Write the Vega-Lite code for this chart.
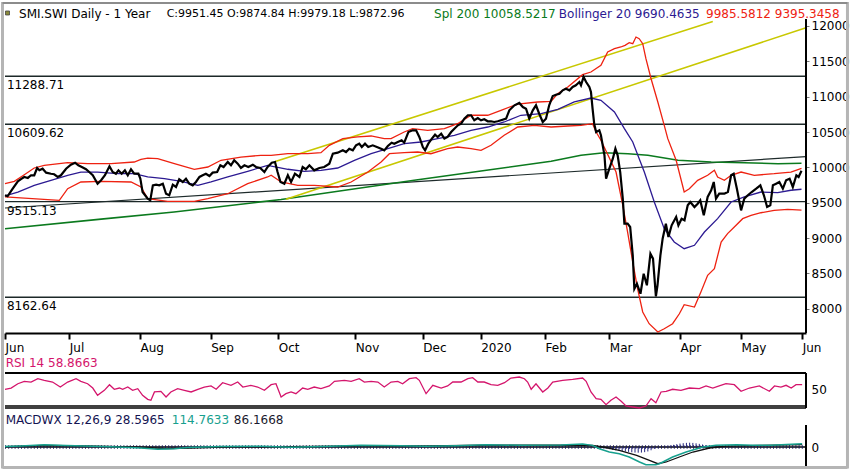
{
  "$schema": "https://vega.github.io/schema/vega-lite/v6.json",
  "padding": 0,
  "background": "white",
  "spacing": 0,
  "bounds": "flush",
  "config": {"view": {"stroke": null}},
  "datasets": {
    "levels": [{"level": 11288.71}, {"level": 10609.62}, {"level": 9515.13}, {"level": 8162.64}],
    "trend": [{"day": 0, "price": 9425}, {"day": 249.2, "price": 10152}],
    "chan_hi": [{"day": 84.1, "price": 10083}, {"day": 220.2, "price": 12065}],
    "chan_lo": [{"day": 87.4, "price": 9550}, {"day": 249.2, "price": 11975}],
    "sma200": [
      {"day": 0, "price": 9132}, {"day": 29.9, "price": 9267}, {"day": 52.6, "price": 9369}, {"day": 85.9, "price": 9545},
      {"day": 103.6, "price": 9661}, {"day": 127.3, "price": 9817}, {"day": 148.1, "price": 9949}, {"day": 169.9, "price": 10086},
      {"day": 179.2, "price": 10171}, {"day": 186.4, "price": 10207}, {"day": 193.8, "price": 10193}, {"day": 200.0, "price": 10171},
      {"day": 209.4, "price": 10100}, {"day": 219.7, "price": 10076}, {"day": 230.0, "price": 10066}, {"day": 240.5, "price": 10052},
      {"day": 247.8, "price": 10058}
    ],
    "upper": [
      {"day": 0, "price": 9769}, {"day": 2.9, "price": 9803}, {"day": 6.0, "price": 9896}, {"day": 9.1, "price": 9991},
      {"day": 12.2, "price": 10029}, {"day": 19.5, "price": 10066}, {"day": 25.7, "price": 10052}, {"day": 33.0, "price": 10052},
      {"day": 40.2, "price": 10076}, {"day": 42.3, "price": 10114}, {"day": 44.4, "price": 10132}, {"day": 47.5, "price": 10123},
      {"day": 52.7, "price": 10052}, {"day": 58.9, "price": 9973}, {"day": 63.1, "price": 10005}, {"day": 67.2, "price": 10100},
      {"day": 73.4, "price": 10146}, {"day": 79.6, "price": 10170}, {"day": 82.8, "price": 10170}, {"day": 88.0, "price": 10193},
      {"day": 94.2, "price": 10193}, {"day": 98.3, "price": 10208}, {"day": 100.9, "price": 10312}, {"day": 105.1, "price": 10406},
      {"day": 109.7, "price": 10430}, {"day": 113.9, "price": 10444}, {"day": 118.0, "price": 10406}, {"day": 120.1, "price": 10406},
      {"day": 124.2, "price": 10500}, {"day": 126.8, "price": 10547}, {"day": 131.5, "price": 10524}, {"day": 136.7, "price": 10547},
      {"day": 140.8, "price": 10618}, {"day": 145.0, "price": 10737}, {"day": 150.2, "price": 10737}, {"day": 154.3, "price": 10807},
      {"day": 159.5, "price": 10896}, {"day": 165.7, "price": 10925}, {"day": 169.9, "price": 10932}, {"day": 171.9, "price": 11042},
      {"day": 175.1, "price": 11137}, {"day": 179.7, "price": 11311}, {"day": 182.3, "price": 11349}, {"day": 185.4, "price": 11444},
      {"day": 187.5, "price": 11632}, {"day": 189.6, "price": 11679}, {"day": 191.6, "price": 11703}, {"day": 192.9, "price": 11727},
      {"day": 194.2, "price": 11764}, {"day": 195.3, "price": 11750}, {"day": 196.3, "price": 11844}, {"day": 197.3, "price": 11820},
      {"day": 198.4, "price": 11750}, {"day": 199.4, "price": 11537}, {"day": 201.0, "price": 11254}, {"day": 203.1, "price": 10925},
      {"day": 205.1, "price": 10595}, {"day": 206.2, "price": 10406}, {"day": 208.8, "price": 10100}, {"day": 211.3, "price": 9651},
      {"day": 212.9, "price": 9698}, {"day": 215.5, "price": 9817}, {"day": 218.6, "price": 9888}, {"day": 220.7, "price": 9958},
      {"day": 221.7, "price": 9864}, {"day": 223.8, "price": 9817}, {"day": 225.9, "price": 9888}, {"day": 229.0, "price": 9934},
      {"day": 233.1, "price": 9888}, {"day": 239.3, "price": 9910}, {"day": 244.5, "price": 9934}, {"day": 247.8, "price": 9986}
    ],
    "lower": [
      {"day": 0, "price": 9581}, {"day": 16.9, "price": 9534}, {"day": 19.5, "price": 9698}, {"day": 23.6, "price": 9793},
      {"day": 29.9, "price": 9803}, {"day": 39.2, "price": 9793}, {"day": 42.3, "price": 9722}, {"day": 44.4, "price": 9557},
      {"day": 50.6, "price": 9520}, {"day": 58.9, "price": 9520}, {"day": 63.1, "price": 9557}, {"day": 69.3, "price": 9627},
      {"day": 75.5, "price": 9769}, {"day": 81.7, "price": 9864}, {"day": 82.8, "price": 9888}, {"day": 85.9, "price": 9793},
      {"day": 91.1, "price": 9746}, {"day": 96.2, "price": 9746}, {"day": 103.5, "price": 9722}, {"day": 107.7, "price": 9793},
      {"day": 112.9, "price": 9934}, {"day": 117.0, "price": 10076}, {"day": 119.6, "price": 10193}, {"day": 124.2, "price": 10208},
      {"day": 128.4, "price": 10217}, {"day": 132.5, "price": 10193}, {"day": 137.7, "price": 10264}, {"day": 140.8, "price": 10288},
      {"day": 145.0, "price": 10264}, {"day": 148.1, "price": 10241}, {"day": 151.2, "price": 10312}, {"day": 155.3, "price": 10454},
      {"day": 159.5, "price": 10571}, {"day": 164.7, "price": 10595}, {"day": 169.9, "price": 10571}, {"day": 175.1, "price": 10585},
      {"day": 179.2, "price": 10595}, {"day": 182.8, "price": 10618}, {"day": 183.9, "price": 10500}, {"day": 185.4, "price": 10383},
      {"day": 190.1, "price": 9934}, {"day": 192.2, "price": 9463}, {"day": 193.7, "price": 9085}, {"day": 195.3, "price": 8661},
      {"day": 196.8, "price": 8283}, {"day": 198.4, "price": 7954}, {"day": 200.4, "price": 7788}, {"day": 203.1, "price": 7671},
      {"day": 205.1, "price": 7717}, {"day": 207.7, "price": 7788}, {"day": 209.8, "price": 7929}, {"day": 211.3, "price": 8057},
      {"day": 214.5, "price": 8024}, {"day": 216.5, "price": 8236}, {"day": 218.6, "price": 8472}, {"day": 220.7, "price": 8566},
      {"day": 222.8, "price": 8944}, {"day": 224.8, "price": 9062}, {"day": 226.9, "price": 9156}, {"day": 229.5, "price": 9274},
      {"day": 232.1, "price": 9321}, {"day": 235.2, "price": 9358}, {"day": 239.3, "price": 9392}, {"day": 243.5, "price": 9406},
      {"day": 247.8, "price": 9395}
    ],
    "middle": [
      {"day": 0, "price": 9595}, {"day": 4.0, "price": 9651}, {"day": 9.1, "price": 9746}, {"day": 14.3, "price": 9817},
      {"day": 19.5, "price": 9888}, {"day": 23.6, "price": 9934}, {"day": 28.8, "price": 9934}, {"day": 35.1, "price": 9910},
      {"day": 40.2, "price": 9910}, {"day": 44.4, "price": 9864}, {"day": 49.6, "price": 9840}, {"day": 54.8, "price": 9803},
      {"day": 60.0, "price": 9746}, {"day": 64.1, "price": 9793}, {"day": 69.3, "price": 9864}, {"day": 75.5, "price": 9944},
      {"day": 81.7, "price": 10029}, {"day": 88.0, "price": 9973}, {"day": 93.1, "price": 9944}, {"day": 98.3, "price": 9958},
      {"day": 103.5, "price": 9991}, {"day": 108.7, "price": 10100}, {"day": 113.9, "price": 10193}, {"day": 119.1, "price": 10264},
      {"day": 124.2, "price": 10335}, {"day": 129.4, "price": 10359}, {"day": 134.6, "price": 10406}, {"day": 139.8, "price": 10454},
      {"day": 145.0, "price": 10524}, {"day": 150.2, "price": 10571}, {"day": 155.3, "price": 10642}, {"day": 160.5, "price": 10737},
      {"day": 166.8, "price": 10759}, {"day": 172.0, "price": 10822}, {"day": 177.1, "price": 10925}, {"day": 182.3, "price": 10981},
      {"day": 185.4, "price": 10949}, {"day": 189.6, "price": 10783}, {"day": 192.7, "price": 10547}, {"day": 195.3, "price": 10359},
      {"day": 198.9, "price": 9934}, {"day": 202.0, "price": 9510}, {"day": 205.1, "price": 9132}, {"day": 208.2, "price": 8944},
      {"day": 211.3, "price": 8849}, {"day": 214.5, "price": 8897}, {"day": 217.6, "price": 9085}, {"day": 221.7, "price": 9274},
      {"day": 225.9, "price": 9510}, {"day": 230.0, "price": 9581}, {"day": 235.2, "price": 9651}, {"day": 240.4, "price": 9642},
      {"day": 244.5, "price": 9676}, {"day": 247.8, "price": 9690}
    ],
    "close": [
      {"day": 0, "price": 9605}, {"day": 0.8, "price": 9591}, {"day": 2.4, "price": 9698}, {"day": 4.0, "price": 9803},
      {"day": 5.2, "price": 9840}, {"day": 6.0, "price": 9864}, {"day": 7.1, "price": 9850}, {"day": 8.1, "price": 9888},
      {"day": 9.1, "price": 9888}, {"day": 10.0, "price": 9991}, {"day": 10.7, "price": 9959}, {"day": 11.7, "price": 9981},
      {"day": 12.8, "price": 9925}, {"day": 14.3, "price": 9910}, {"day": 15.3, "price": 9902}, {"day": 16.4, "price": 9864},
      {"day": 17.4, "price": 9888}, {"day": 19.0, "price": 9981}, {"day": 20.5, "price": 10038}, {"day": 21.8, "price": 10066},
      {"day": 22.8, "price": 10029}, {"day": 23.9, "price": 10005}, {"day": 25.2, "price": 9973}, {"day": 26.2, "price": 9934},
      {"day": 27.3, "price": 9888}, {"day": 28.8, "price": 9769}, {"day": 29.9, "price": 9817}, {"day": 31.1, "price": 9888},
      {"day": 32.5, "price": 10015}, {"day": 33.5, "price": 9934}, {"day": 34.5, "price": 9910}, {"day": 35.3, "price": 9958},
      {"day": 36.3, "price": 9910}, {"day": 37.3, "price": 9958}, {"day": 38.2, "price": 9888}, {"day": 39.2, "price": 9973},
      {"day": 40.2, "price": 9910}, {"day": 41.5, "price": 9910}, {"day": 42.1, "price": 9840}, {"day": 42.8, "price": 9651},
      {"day": 44.4, "price": 9557}, {"day": 45.2, "price": 9534}, {"day": 46.0, "price": 9746}, {"day": 47.0, "price": 9755},
      {"day": 48.0, "price": 9746}, {"day": 49.1, "price": 9769}, {"day": 50.1, "price": 9627}, {"day": 51.1, "price": 9605},
      {"day": 52.2, "price": 9755}, {"day": 53.2, "price": 9722}, {"day": 54.2, "price": 9831}, {"day": 55.3, "price": 9793},
      {"day": 56.3, "price": 9840}, {"day": 57.3, "price": 9769}, {"day": 58.4, "price": 9746}, {"day": 59.4, "price": 9793},
      {"day": 60.5, "price": 9864}, {"day": 61.5, "price": 9888}, {"day": 62.5, "price": 9910}, {"day": 63.6, "price": 9878},
      {"day": 64.6, "price": 9925}, {"day": 66.0, "price": 9934}, {"day": 67.0, "price": 10029}, {"day": 68.0, "price": 10005},
      {"day": 69.3, "price": 10076}, {"day": 70.3, "price": 10029}, {"day": 71.3, "price": 10100}, {"day": 72.4, "price": 10052},
      {"day": 73.4, "price": 9991}, {"day": 74.5, "price": 10029}, {"day": 75.7, "price": 10005}, {"day": 77.1, "price": 10038},
      {"day": 78.1, "price": 10005}, {"day": 79.4, "price": 9991}, {"day": 80.7, "price": 9934}, {"day": 81.7, "price": 10005},
      {"day": 83.0, "price": 10066}, {"day": 84.0, "price": 10076}, {"day": 84.8, "price": 9934}, {"day": 85.7, "price": 9793},
      {"day": 86.9, "price": 9769}, {"day": 88.0, "price": 9888}, {"day": 89.0, "price": 9793}, {"day": 90.2, "price": 9910},
      {"day": 91.6, "price": 9864}, {"day": 92.6, "price": 10005}, {"day": 93.6, "price": 9973}, {"day": 94.7, "price": 10029},
      {"day": 96.2, "price": 9958}, {"day": 97.8, "price": 9991}, {"day": 99.3, "price": 10005}, {"day": 100.9, "price": 10052},
      {"day": 102.0, "price": 10193}, {"day": 103.5, "price": 10208}, {"day": 105.1, "price": 10241}, {"day": 106.1, "price": 10217},
      {"day": 107.1, "price": 10264}, {"day": 108.2, "price": 10241}, {"day": 109.2, "price": 10312}, {"day": 110.2, "price": 10335},
      {"day": 111.0, "price": 10288}, {"day": 112.0, "price": 10335}, {"day": 113.0, "price": 10288}, {"day": 114.4, "price": 10312},
      {"day": 115.7, "price": 10288}, {"day": 117.0, "price": 10264}, {"day": 118.0, "price": 10241}, {"day": 119.1, "price": 10302},
      {"day": 120.3, "price": 10349}, {"day": 121.1, "price": 10335}, {"day": 122.2, "price": 10359}, {"day": 123.4, "price": 10383},
      {"day": 124.2, "price": 10349}, {"day": 125.5, "price": 10500}, {"day": 126.8, "price": 10524}, {"day": 127.9, "price": 10524},
      {"day": 128.9, "price": 10430}, {"day": 130.0, "price": 10288}, {"day": 130.7, "price": 10241}, {"day": 131.7, "price": 10335},
      {"day": 132.8, "price": 10406}, {"day": 133.8, "price": 10462}, {"day": 134.6, "price": 10430}, {"day": 135.7, "price": 10476},
      {"day": 136.7, "price": 10406}, {"day": 137.7, "price": 10430}, {"day": 138.8, "price": 10500}, {"day": 139.8, "price": 10547},
      {"day": 140.9, "price": 10595}, {"day": 141.9, "price": 10618}, {"day": 142.9, "price": 10689}, {"day": 144.0, "price": 10737},
      {"day": 145.0, "price": 10737}, {"day": 146.0, "price": 10666}, {"day": 147.1, "price": 10698}, {"day": 148.1, "price": 10666},
      {"day": 149.1, "price": 10680}, {"day": 150.2, "price": 10652}, {"day": 151.2, "price": 10652}, {"day": 152.2, "price": 10642},
      {"day": 153.3, "price": 10652}, {"day": 154.3, "price": 10666}, {"day": 155.9, "price": 10689}, {"day": 156.9, "price": 10807},
      {"day": 158.5, "price": 10878}, {"day": 160.0, "price": 10911}, {"day": 161.1, "price": 10854}, {"day": 162.1, "price": 10830},
      {"day": 163.1, "price": 10689}, {"day": 164.2, "price": 10807}, {"day": 165.2, "price": 10878}, {"day": 166.2, "price": 10759},
      {"day": 167.3, "price": 10641}, {"day": 168.3, "price": 10689}, {"day": 169.3, "price": 10878}, {"day": 170.4, "price": 11010},
      {"day": 171.4, "price": 11028}, {"day": 172.5, "price": 11042}, {"day": 173.5, "price": 11090}, {"day": 174.5, "price": 11113},
      {"day": 175.6, "price": 11090}, {"day": 176.6, "price": 11137}, {"day": 177.6, "price": 11161}, {"day": 178.7, "price": 11208},
      {"day": 179.2, "price": 11161}, {"day": 180.0, "price": 11280}, {"day": 180.8, "price": 11208}, {"day": 181.8, "price": 11137},
      {"day": 182.3, "price": 11066}, {"day": 182.8, "price": 10830}, {"day": 183.3, "price": 10618}, {"day": 183.9, "price": 10500},
      {"day": 184.9, "price": 10524}, {"day": 185.4, "price": 10454}, {"day": 186.5, "price": 10171}, {"day": 187.0, "price": 9840},
      {"day": 188.0, "price": 9981}, {"day": 189.1, "price": 10123}, {"day": 189.9, "price": 10264}, {"day": 190.6, "price": 10171},
      {"day": 191.4, "price": 9934}, {"day": 192.2, "price": 9557}, {"day": 192.7, "price": 9203}, {"day": 193.7, "price": 9203},
      {"day": 194.5, "price": 9156}, {"day": 195.3, "price": 8756}, {"day": 195.8, "price": 8283}, {"day": 196.6, "price": 8354},
      {"day": 197.7, "price": 8212}, {"day": 198.7, "price": 8495}, {"day": 199.7, "price": 8331}, {"day": 200.8, "price": 8779},
      {"day": 201.6, "price": 8708}, {"day": 202.5, "price": 8175}, {"day": 203.0, "price": 8331}, {"day": 203.9, "price": 8756},
      {"day": 204.6, "price": 8991}, {"day": 205.6, "price": 9203}, {"day": 206.4, "price": 9015}, {"day": 207.4, "price": 9180},
      {"day": 208.8, "price": 9297}, {"day": 209.5, "price": 9180}, {"day": 210.5, "price": 9274}, {"day": 211.4, "price": 9251},
      {"day": 212.4, "price": 9463}, {"day": 213.2, "price": 9510}, {"day": 214.5, "price": 9439}, {"day": 215.5, "price": 9486},
      {"day": 216.3, "price": 9534}, {"day": 217.4, "price": 9322}, {"day": 218.6, "price": 9581}, {"day": 219.7, "price": 9676},
      {"day": 220.5, "price": 9793}, {"day": 221.2, "price": 9557}, {"day": 222.2, "price": 9627}, {"day": 223.8, "price": 9627},
      {"day": 224.9, "price": 9651}, {"day": 225.9, "price": 9888}, {"day": 226.7, "price": 9910}, {"day": 227.7, "price": 9698},
      {"day": 229.0, "price": 9392}, {"day": 230.0, "price": 9557}, {"day": 231.1, "price": 9605}, {"day": 232.3, "price": 9651},
      {"day": 233.7, "price": 9698}, {"day": 235.0, "price": 9746}, {"day": 236.1, "price": 9605}, {"day": 237.1, "price": 9439},
      {"day": 238.1, "price": 9463}, {"day": 238.9, "price": 9746}, {"day": 239.9, "price": 9769}, {"day": 240.9, "price": 9793},
      {"day": 242.0, "price": 9698}, {"day": 243.0, "price": 9817}, {"day": 244.1, "price": 9840}, {"day": 245.1, "price": 9722},
      {"day": 246.2, "price": 9888}, {"day": 246.9, "price": 9864}, {"day": 247.8, "price": 9951}
    ],
    "rsi": [
      {"day": 0, "rsi": 50.4}, {"day": 1.9, "rsi": 52.7}, {"day": 4.0, "rsi": 60.5}, {"day": 6.0, "rsi": 64.9},
      {"day": 8.1, "rsi": 63.6}, {"day": 10.2, "rsi": 69.6}, {"day": 12.2, "rsi": 66.7}, {"day": 14.8, "rsi": 63.6},
      {"day": 17.2, "rsi": 54.5}, {"day": 19.5, "rsi": 63.6}, {"day": 22.1, "rsi": 69.6}, {"day": 23.6, "rsi": 64.9},
      {"day": 25.7, "rsi": 60.5}, {"day": 27.3, "rsi": 52.7}, {"day": 28.8, "rsi": 39.5}, {"day": 30.9, "rsi": 48.5},
      {"day": 32.5, "rsi": 58.7}, {"day": 34.0, "rsi": 50.4}, {"day": 35.6, "rsi": 52.7}, {"day": 36.6, "rsi": 50.4},
      {"day": 38.2, "rsi": 54.5}, {"day": 39.7, "rsi": 48.5}, {"day": 41.3, "rsi": 51.5}, {"day": 42.8, "rsi": 39.5},
      {"day": 44.4, "rsi": 32.2}, {"day": 45.4, "rsi": 30.4}, {"day": 46.5, "rsi": 45.5}, {"day": 48.5, "rsi": 46.7},
      {"day": 50.1, "rsi": 36.4}, {"day": 51.6, "rsi": 45.5}, {"day": 53.7, "rsi": 51.5}, {"day": 55.8, "rsi": 48.5},
      {"day": 57.9, "rsi": 45.5}, {"day": 60.0, "rsi": 50.4}, {"day": 62.0, "rsi": 54.5}, {"day": 64.1, "rsi": 56.4},
      {"day": 65.7, "rsi": 50.4}, {"day": 67.7, "rsi": 62.4}, {"day": 70.3, "rsi": 57.6}, {"day": 72.4, "rsi": 63.6},
      {"day": 74.0, "rsi": 54.5}, {"day": 76.5, "rsi": 57.6}, {"day": 78.6, "rsi": 54.5}, {"day": 80.7, "rsi": 48.5},
      {"day": 82.8, "rsi": 58.7}, {"day": 84.3, "rsi": 60.5}, {"day": 85.9, "rsi": 36.4}, {"day": 87.4, "rsi": 42.4},
      {"day": 89.0, "rsi": 45.5}, {"day": 90.5, "rsi": 42.4}, {"day": 92.6, "rsi": 52.7}, {"day": 94.2, "rsi": 50.4},
      {"day": 96.2, "rsi": 54.5}, {"day": 98.3, "rsi": 51.5}, {"day": 100.9, "rsi": 56.4}, {"day": 102.5, "rsi": 64.9},
      {"day": 105.6, "rsi": 66.7}, {"day": 107.7, "rsi": 64.9}, {"day": 110.2, "rsi": 69.6}, {"day": 111.8, "rsi": 63.6},
      {"day": 113.9, "rsi": 64.9}, {"day": 116.0, "rsi": 63.6}, {"day": 118.0, "rsi": 54.5}, {"day": 120.1, "rsi": 63.6},
      {"day": 122.2, "rsi": 64.9}, {"day": 123.7, "rsi": 60.5}, {"day": 125.8, "rsi": 69.6}, {"day": 127.9, "rsi": 71.5},
      {"day": 128.9, "rsi": 66.7}, {"day": 131.0, "rsi": 42.4}, {"day": 133.1, "rsi": 57.6}, {"day": 135.7, "rsi": 52.7},
      {"day": 137.7, "rsi": 56.4}, {"day": 139.3, "rsi": 63.6}, {"day": 141.9, "rsi": 63.6}, {"day": 144.0, "rsi": 69.6},
      {"day": 145.5, "rsi": 71.5}, {"day": 147.1, "rsi": 63.6}, {"day": 149.1, "rsi": 63.6}, {"day": 151.2, "rsi": 58.7},
      {"day": 153.3, "rsi": 57.6}, {"day": 155.4, "rsi": 62.4}, {"day": 157.4, "rsi": 70.9}, {"day": 160.0, "rsi": 72.7},
      {"day": 161.6, "rsi": 69.6}, {"day": 162.6, "rsi": 63.6}, {"day": 163.7, "rsi": 50.4}, {"day": 165.2, "rsi": 60.5},
      {"day": 167.3, "rsi": 45.5}, {"day": 168.9, "rsi": 52.7}, {"day": 170.4, "rsi": 63.6}, {"day": 173.5, "rsi": 66.7},
      {"day": 176.6, "rsi": 68.5}, {"day": 179.7, "rsi": 70.9}, {"day": 180.8, "rsi": 64.9}, {"day": 182.3, "rsi": 45.5},
      {"day": 183.9, "rsi": 33.3}, {"day": 185.4, "rsi": 32.2}, {"day": 187.0, "rsi": 22.4}, {"day": 188.5, "rsi": 30.4},
      {"day": 190.1, "rsi": 36.4}, {"day": 191.7, "rsi": 28.5}, {"day": 193.2, "rsi": 20.0}, {"day": 195.3, "rsi": 18.2},
      {"day": 197.4, "rsi": 16.4}, {"day": 199.4, "rsi": 20.0}, {"day": 201.0, "rsi": 33.3}, {"day": 202.5, "rsi": 26.0},
      {"day": 204.1, "rsi": 45.5}, {"day": 205.7, "rsi": 46.7}, {"day": 207.7, "rsi": 50.4}, {"day": 210.3, "rsi": 48.5},
      {"day": 212.9, "rsi": 52.7}, {"day": 216.0, "rsi": 51.5}, {"day": 218.1, "rsi": 56.4}, {"day": 220.2, "rsi": 52.7},
      {"day": 222.2, "rsi": 56.4}, {"day": 224.3, "rsi": 60.5}, {"day": 226.9, "rsi": 58.7}, {"day": 229.0, "rsi": 46.7},
      {"day": 231.6, "rsi": 52.7}, {"day": 234.7, "rsi": 56.4}, {"day": 237.8, "rsi": 46.7}, {"day": 239.4, "rsi": 56.4},
      {"day": 241.4, "rsi": 54.5}, {"day": 243.0, "rsi": 57.6}, {"day": 244.6, "rsi": 52.7}, {"day": 246.1, "rsi": 58.7},
      {"day": 248.0, "rsi": 58.9}
    ],
    "macd": [
      {"day": 0, "macd": 20}, {"day": 5.0, "macd": 40}, {"day": 12.2, "macd": 85}, {"day": 19.0, "macd": 55},
      {"day": 24.7, "macd": 35}, {"day": 33.0, "macd": 5}, {"day": 42.3, "macd": -40}, {"day": 47.5, "macd": -85},
      {"day": 52.7, "macd": -65}, {"day": 56.8, "macd": -15}, {"day": 67.2, "macd": 20}, {"day": 79.7, "macd": 30},
      {"day": 89.0, "macd": -10}, {"day": 101.4, "macd": 30}, {"day": 110.8, "macd": 65}, {"day": 123.2, "macd": 50},
      {"day": 131.0, "macd": 30}, {"day": 140.3, "macd": 50}, {"day": 149.7, "macd": 85}, {"day": 160.5, "macd": 60},
      {"day": 173.0, "macd": 70}, {"day": 179.7, "macd": 110}, {"day": 182.8, "macd": 60}, {"day": 184.9, "macd": -62},
      {"day": 188.0, "macd": -184}, {"day": 191.1, "macd": -246}, {"day": 194.2, "macd": -368}, {"day": 197.4, "macd": -551},
      {"day": 199.4, "macd": -651}, {"day": 202.5, "macd": -651}, {"day": 203.6, "macd": -614}, {"day": 207.7, "macd": -368},
      {"day": 211.9, "macd": -184}, {"day": 217.1, "macd": 0}, {"day": 221.2, "macd": 62}, {"day": 227.7, "macd": 85},
      {"day": 232.6, "macd": 62}, {"day": 238.3, "macd": 60}, {"day": 248.0, "macd": 115}
    ],
    "signal": [
      {"day": 0, "signal": 15}, {"day": 12.2, "signal": 60}, {"day": 24.7, "signal": 40}, {"day": 42.3, "signal": -10},
      {"day": 50.1, "signal": -60}, {"day": 57.9, "signal": -40}, {"day": 70.3, "signal": 10}, {"day": 89.0, "signal": 10},
      {"day": 110.8, "signal": 45}, {"day": 131.0, "signal": 40}, {"day": 149.7, "signal": 65}, {"day": 173.0, "signal": 65},
      {"day": 182.8, "signal": 62}, {"day": 186.0, "signal": 0}, {"day": 191.1, "signal": -121}, {"day": 196.5, "signal": -305},
      {"day": 200.5, "signal": -489}, {"day": 203.1, "signal": -614}, {"day": 205.7, "signal": -551}, {"day": 209.8, "signal": -368},
      {"day": 214.0, "signal": -184}, {"day": 219.2, "signal": -37}, {"day": 224.3, "signal": 30}, {"day": 235.2, "signal": 60},
      {"day": 248.0, "signal": 86}
    ],
    "hist": [
      {"day": 185, "hist": -20}, {"day": 186, "hist": -40}, {"day": 187, "hist": -60}, {"day": 188, "hist": -80},
      {"day": 189, "hist": -100}, {"day": 190, "hist": -120}, {"day": 191, "hist": -135}, {"day": 192, "hist": -150},
      {"day": 193, "hist": -165}, {"day": 194, "hist": -180}, {"day": 195, "hist": -195}, {"day": 196, "hist": -205},
      {"day": 197, "hist": -210}, {"day": 198, "hist": -205}, {"day": 199, "hist": -190}, {"day": 200, "hist": -165},
      {"day": 201, "hist": -120}, {"day": 202, "hist": -70}, {"day": 203, "hist": -25}, {"day": 205, "hist": 10},
      {"day": 206, "hist": 30}, {"day": 207, "hist": 55}, {"day": 208, "hist": 80}, {"day": 209, "hist": 105},
      {"day": 210, "hist": 125}, {"day": 211, "hist": 140}, {"day": 212, "hist": 152}, {"day": 213, "hist": 158},
      {"day": 214, "hist": 150}, {"day": 215, "hist": 135}, {"day": 216, "hist": 115}, {"day": 217, "hist": 90},
      {"day": 218, "hist": 65}, {"day": 219, "hist": 40}, {"day": 220, "hist": 20}, {"day": 221, "hist": 8}
    ]
  },
  "vconcat": [
    {
      "width": 801,
      "height": 328,
      "layer": [
        {
          "data": {"name": "levels"},
          "mark": {"type": "rule", "color": "#1c2828", "strokeWidth": 1.3},
          "encoding": {
            "y": {"field": "level", "type": "quantitative", "scale": {"domain": [7656.5, 12297.1], "nice": false, "zero": false}}
          }
        },
        {
          "data": {"name": "levels"},
          "mark": {"type": "text", "align": "left", "baseline": "middle", "dy": 9, "font": "DejaVu Sans", "fontSize": 12, "color": "black"},
          "encoding": {
            "x": {"datum": 0.6, "type": "quantitative", "scale": {"domain": [0, 249.2], "nice": false, "zero": false}},
            "y": {"field": "level", "type": "quantitative", "scale": {"domain": [7656.5, 12297.1], "nice": false, "zero": false}},
            "text": {"field": "level", "type": "quantitative", "format": ".2f"}
          }
        },
        {
          "data": {"name": "trend"},
          "mark": {"type": "line", "color": "#1e2b2b", "strokeWidth": 1.2},
          "encoding": {
            "x": {"field": "day", "type": "quantitative", "scale": {"domain": [0, 249.2], "nice": false, "zero": false}},
            "y": {"field": "price", "type": "quantitative", "scale": {"domain": [7656.5, 12297.1], "nice": false, "zero": false}}
          }
        },
        {
          "data": {"name": "sma200"},
          "mark": {"type": "line", "color": "#0b7a1e", "strokeWidth": 1.6},
          "encoding": {
            "x": {"field": "day", "type": "quantitative", "scale": {"domain": [0, 249.2], "nice": false, "zero": false}},
            "y": {"field": "price", "type": "quantitative", "scale": {"domain": [7656.5, 12297.1], "nice": false, "zero": false}}
          }
        },
        {
          "data": {"name": "chan_hi"},
          "mark": {"type": "line", "color": "#c8c800", "strokeWidth": 1.6},
          "encoding": {
            "x": {"field": "day", "type": "quantitative", "scale": {"domain": [0, 249.2], "nice": false, "zero": false}},
            "y": {"field": "price", "type": "quantitative", "scale": {"domain": [7656.5, 12297.1], "nice": false, "zero": false}}
          }
        },
        {
          "data": {"name": "chan_lo"},
          "mark": {"type": "line", "color": "#c8c800", "strokeWidth": 1.6},
          "encoding": {
            "x": {"field": "day", "type": "quantitative", "scale": {"domain": [0, 249.2], "nice": false, "zero": false}},
            "y": {"field": "price", "type": "quantitative", "scale": {"domain": [7656.5, 12297.1], "nice": false, "zero": false}}
          }
        },
        {
          "data": {"name": "upper"},
          "mark": {"type": "line", "color": "#ee2211", "strokeWidth": 1.3},
          "encoding": {
            "x": {"field": "day", "type": "quantitative", "scale": {"domain": [0, 249.2], "nice": false, "zero": false}},
            "y": {"field": "price", "type": "quantitative", "scale": {"domain": [7656.5, 12297.1], "nice": false, "zero": false}}
          }
        },
        {
          "data": {"name": "lower"},
          "mark": {"type": "line", "color": "#ee2211", "strokeWidth": 1.3},
          "encoding": {
            "x": {"field": "day", "type": "quantitative", "scale": {"domain": [0, 249.2], "nice": false, "zero": false}},
            "y": {"field": "price", "type": "quantitative", "scale": {"domain": [7656.5, 12297.1], "nice": false, "zero": false}}
          }
        },
        {
          "data": {"name": "middle"},
          "mark": {"type": "line", "color": "#2c1a92", "strokeWidth": 1.3},
          "encoding": {
            "x": {"field": "day", "type": "quantitative", "scale": {"domain": [0, 249.2], "nice": false, "zero": false}},
            "y": {"field": "price", "type": "quantitative", "scale": {"domain": [7656.5, 12297.1], "nice": false, "zero": false}}
          }
        },
        {
          "data": {"name": "close"},
          "mark": {"type": "line", "color": "black", "strokeWidth": 2.2},
          "encoding": {
            "x": {
              "field": "day", "type": "quantitative",
              "scale": {"domain": [0, 249.2], "nice": false, "zero": false},
              "axis": {
                "orient": "bottom", "title": null, "grid": false,
                "values": [0, 20, 42, 64, 85, 109, 130, 148, 168, 188, 210, 229, 248],
                "labelExpr": "['Jun','Jul','Aug','Sep','Oct','Nov','Dec','2020','Feb','Mar','Apr','May','Jun'][indexof([0,20,42,64,85,109,130,148,168,188,210,229,248], datum.value)]",
                "domain": true, "domainColor": "black", "domainWidth": 2, "ticks": true, "tickColor": "black", "tickWidth": 2, "tickSize": 6,
                "labelAlign": "left", "labelBaseline": "top", "labelPadding": 3, "labelFont": "DejaVu Sans", "labelFontSize": 12,
                "labelColor": "black", "labelFlush": false, "labelOverlap": false, "labelBound": false
              }
            },
            "y": {
              "field": "price", "type": "quantitative",
              "scale": {"domain": [7656.5, 12297.1], "nice": false, "zero": false},
              "axis": {
                "orient": "right", "title": null, "grid": false, "domain": false, "ticks": true,
                "values": [8000, 8500, 9000, 9500, 10000, 10500, 11000, 11500, 12000], "format": "d",
                "tickSize": 3, "tickColor": "#777777", "labelPadding": 2, "labelFont": "DejaVu Sans", "labelFontSize": 12,
                "labelColor": "black", "labelFlush": false, "labelOverlap": false
              }
            }
          }
        },
        {
          "data": {"values": [{}]},
          "mark": {"type": "point", "shape": "square", "filled": true, "size": 16, "color": "#8a8a3a", "stroke": "#444444", "strokeWidth": 0.8, "opacity": 1},
          "encoding": {
            "x": {"datum": 0.78, "type": "quantitative", "scale": {"domain": [0, 249.2], "nice": false, "zero": false}},
            "y": {"datum": 12184, "type": "quantitative", "scale": {"domain": [7656.5, 12297.1], "nice": false, "zero": false}}
          }
        },
        {
          "data": {"values": [{}]},
          "mark": {"type": "text", "align": "left", "baseline": "middle", "font": "DejaVu Sans", "fontSize": 12, "color": "black", "text": "SMI.SWI Daily -  1 Year"},
          "encoding": {
            "x": {"datum": 4.36, "type": "quantitative", "scale": {"domain": [0, 249.2], "nice": false, "zero": false}},
            "y": {"datum": 12169.8, "type": "quantitative", "scale": {"domain": [7656.5, 12297.1], "nice": false, "zero": false}}
          }
        },
        {
          "data": {"values": [{}]},
          "mark": {"type": "text", "align": "left", "baseline": "middle", "font": "DejaVu Sans", "fontSize": 11, "color": "black", "text": "C:9951.45 O:9874.84 H:9979.18 L:9872.96"},
          "encoding": {
            "x": {"datum": 50.3, "type": "quantitative", "scale": {"domain": [0, 249.2], "nice": false, "zero": false}},
            "y": {"datum": 12169.8, "type": "quantitative", "scale": {"domain": [7656.5, 12297.1], "nice": false, "zero": false}}
          }
        },
        {
          "data": {"values": [{}]},
          "mark": {"type": "text", "align": "left", "baseline": "middle", "font": "DejaVu Sans", "fontSize": 12, "color": "#0a7a20", "text": "Spl 200 10058.5217"},
          "encoding": {
            "x": {"datum": 133.5, "type": "quantitative", "scale": {"domain": [0, 249.2], "nice": false, "zero": false}},
            "y": {"datum": 12169.8, "type": "quantitative", "scale": {"domain": [7656.5, 12297.1], "nice": false, "zero": false}}
          }
        },
        {
          "data": {"values": [{}]},
          "mark": {"type": "text", "align": "left", "baseline": "middle", "font": "DejaVu Sans", "fontSize": 12, "color": "#2c1a92", "text": "Bollinger 20 9690.4635"},
          "encoding": {
            "x": {"datum": 172.3, "type": "quantitative", "scale": {"domain": [0, 249.2], "nice": false, "zero": false}},
            "y": {"datum": 12169.8, "type": "quantitative", "scale": {"domain": [7656.5, 12297.1], "nice": false, "zero": false}}
          }
        },
        {
          "data": {"values": [{}]},
          "mark": {"type": "text", "align": "left", "baseline": "middle", "font": "DejaVu Sans", "fontSize": 12, "color": "#ee2211", "text": "9985.5812 9395.3458"},
          "encoding": {
            "x": {"datum": 218.1, "type": "quantitative", "scale": {"domain": [0, 249.2], "nice": false, "zero": false}},
            "y": {"datum": 12169.8, "type": "quantitative", "scale": {"domain": [7656.5, 12297.1], "nice": false, "zero": false}}
          }
        },
        {
          "data": {"values": [{}]},
          "mark": {"type": "rule", "color": "black", "strokeWidth": 2},
          "encoding": {
            "x": {"datum": 249.2, "type": "quantitative", "scale": {"domain": [0, 249.2], "nice": false, "zero": false}},
            "y": {"datum": 12099, "type": "quantitative", "scale": {"domain": [7656.5, 12297.1], "nice": false, "zero": false}},
            "y2": {"datum": 7656.5}
          }
        },
        {
          "data": {"values": [{}]},
          "mark": {"type": "rule", "color": "#b5b5b5", "strokeWidth": 3},
          "encoding": {
            "x": {"datum": -0.778, "type": "quantitative", "scale": {"domain": [0, 249.2], "nice": false, "zero": false}},
            "y": {"datum": 12339.6, "type": "quantitative", "scale": {"domain": [7656.5, 12297.1], "nice": false, "zero": false}},
            "y2": {"datum": 7656.5}
          }
        },
        {
          "data": {"values": [{}]},
          "mark": {"type": "rule", "color": "#b5b5b5", "strokeWidth": 3},
          "encoding": {
            "x": {"datum": 262.1, "type": "quantitative", "scale": {"domain": [0, 249.2], "nice": false, "zero": false}},
            "y": {"datum": 12339.6, "type": "quantitative", "scale": {"domain": [7656.5, 12297.1], "nice": false, "zero": false}},
            "y2": {"datum": 7656.5}
          }
        },
        {
          "data": {"values": [{}]},
          "mark": {"type": "rule", "color": "#8c8c8c", "strokeWidth": 2},
          "encoding": {
            "x": {"datum": -0.778, "type": "quantitative", "scale": {"domain": [0, 249.2], "nice": false, "zero": false}},
            "x2": {"datum": 262.1},
            "y": {"datum": 12325.5, "type": "quantitative", "scale": {"domain": [7656.5, 12297.1], "nice": false, "zero": false}}
          }
        }
      ]
    },
    {
      "width": 801,
      "height": 76,
      "layer": [
        {
          "data": {"values": [{}]},
          "mark": {"type": "rule", "color": "black", "strokeWidth": 2},
          "encoding": {
            "x": {"datum": 0, "type": "quantitative", "scale": {"domain": [0, 249.2], "nice": false, "zero": false}, "axis": null},
            "x2": {"datum": 249.2},
            "y": {"datum": 80, "type": "quantitative", "scale": {"domain": [14.55, 152.73], "nice": false, "zero": false}}
          }
        },
        {
          "data": {"values": [{}]},
          "mark": {"type": "rule", "color": "black", "strokeWidth": 1.6},
          "encoding": {
            "x": {"datum": 0, "type": "quantitative", "scale": {"domain": [0, 249.2], "nice": false, "zero": false}, "axis": null},
            "x2": {"datum": 249.2},
            "y": {"datum": 20, "type": "quantitative", "scale": {"domain": [14.55, 152.73], "nice": false, "zero": false}}
          }
        },
        {
          "data": {"values": [{}]},
          "mark": {"type": "rule", "color": "black", "strokeWidth": 1.6},
          "encoding": {
            "x": {"datum": 0, "type": "quantitative", "scale": {"domain": [0, 249.2], "nice": false, "zero": false}, "axis": null},
            "x2": {"datum": 249.2},
            "y": {"datum": 16.36, "type": "quantitative", "scale": {"domain": [14.55, 152.73], "nice": false, "zero": false}}
          }
        },
        {
          "data": {"values": [{}]},
          "mark": {"type": "rule", "color": "black", "strokeWidth": 2},
          "encoding": {
            "x": {"datum": 249.2, "type": "quantitative", "scale": {"domain": [0, 249.2], "nice": false, "zero": false}, "axis": null},
            "y": {"datum": 80, "type": "quantitative", "scale": {"domain": [14.55, 152.73], "nice": false, "zero": false}},
            "y2": {"datum": 16.36}
          }
        },
        {
          "data": {"name": "rsi"},
          "mark": {"type": "line", "color": "#d4156c", "strokeWidth": 1.3},
          "encoding": {
            "x": {"field": "day", "type": "quantitative", "scale": {"domain": [0, 249.2], "nice": false, "zero": false}, "axis": null},
            "y": {
              "field": "rsi", "type": "quantitative",
              "scale": {"domain": [14.55, 152.73], "nice": false, "zero": false},
              "axis": {
                "orient": "right", "title": null, "grid": false, "domain": false, "ticks": false,
                "values": [50], "format": "d", "labelPadding": 5, "labelFont": "DejaVu Sans", "labelFontSize": 12, "labelColor": "black"
              }
            }
          }
        },
        {
          "data": {"values": [{}]},
          "mark": {"type": "text", "align": "left", "baseline": "middle", "font": "DejaVu Sans", "fontSize": 12, "color": "#d4156c", "text": "RSI 14  58.8663"},
          "encoding": {
            "x": {"datum": 0.2, "type": "quantitative", "scale": {"domain": [0, 249.2], "nice": false, "zero": false}, "axis": null},
            "y": {"datum": 98.2, "type": "quantitative", "scale": {"domain": [14.55, 152.73], "nice": false, "zero": false}}
          }
        },
        {
          "data": {"values": [{}]},
          "mark": {"type": "rule", "color": "#b5b5b5", "strokeWidth": 3},
          "encoding": {
            "x": {"datum": -0.778, "type": "quantitative", "scale": {"domain": [0, 249.2], "nice": false, "zero": false}, "axis": null},
            "y": {"datum": 152.73, "type": "quantitative", "scale": {"domain": [14.55, 152.73], "nice": false, "zero": false}},
            "y2": {"datum": 14.55}
          }
        },
        {
          "data": {"values": [{}]},
          "mark": {"type": "rule", "color": "#b5b5b5", "strokeWidth": 3},
          "encoding": {
            "x": {"datum": 262.1, "type": "quantitative", "scale": {"domain": [0, 249.2], "nice": false, "zero": false}, "axis": null},
            "y": {"datum": 152.73, "type": "quantitative", "scale": {"domain": [14.55, 152.73], "nice": false, "zero": false}},
            "y2": {"datum": 14.55}
          }
        }
      ]
    },
    {
      "width": 801,
      "height": 57,
      "layer": [
        {
          "data": {"values": [{}]},
          "mark": {"type": "rule", "color": "black", "strokeWidth": 1.4},
          "encoding": {
            "x": {"datum": 0, "type": "quantitative", "scale": {"domain": [0, 249.2], "nice": false, "zero": false}, "axis": null},
            "x2": {"datum": 249.2},
            "y": {"datum": 0, "type": "quantitative", "scale": {"domain": [-698.5, 1397], "nice": false, "zero": false}}
          }
        },
        {
          "data": {"values": [{}]},
          "mark": {"type": "rule", "color": "#1c1c5a", "strokeWidth": 3.4, "strokeDash": [1, 2.2]},
          "encoding": {
            "x": {"datum": 0, "type": "quantitative", "scale": {"domain": [0, 249.2], "nice": false, "zero": false}, "axis": null},
            "x2": {"datum": 249.2},
            "y": {"datum": 0, "type": "quantitative", "scale": {"domain": [-698.5, 1397], "nice": false, "zero": false}}
          }
        },
        {
          "data": {"name": "hist"},
          "mark": {"type": "rule", "color": "#26267e", "strokeWidth": 1},
          "encoding": {
            "x": {"field": "day", "type": "quantitative", "scale": {"domain": [0, 249.2], "nice": false, "zero": false}, "axis": null},
            "y": {"field": "hist", "type": "quantitative", "scale": {"domain": [-698.5, 1397], "nice": false, "zero": false}},
            "y2": {"datum": 0}
          }
        },
        {
          "data": {"name": "signal"},
          "mark": {"type": "line", "color": "#111111", "strokeWidth": 1.3},
          "encoding": {
            "x": {"field": "day", "type": "quantitative", "scale": {"domain": [0, 249.2], "nice": false, "zero": false}, "axis": null},
            "y": {"field": "signal", "type": "quantitative", "scale": {"domain": [-698.5, 1397], "nice": false, "zero": false}}
          }
        },
        {
          "data": {"name": "macd"},
          "mark": {"type": "line", "color": "#17a08e", "strokeWidth": 1.5},
          "encoding": {
            "x": {"field": "day", "type": "quantitative", "scale": {"domain": [0, 249.2], "nice": false, "zero": false}, "axis": null},
            "y": {
              "field": "macd", "type": "quantitative",
              "scale": {"domain": [-698.5, 1397], "nice": false, "zero": false},
              "axis": {
                "orient": "right", "title": null, "grid": false, "domain": false, "ticks": false,
                "values": [0], "format": "d", "labelPadding": 5, "labelFont": "DejaVu Sans", "labelFontSize": 12, "labelColor": "black"
              }
            }
          }
        },
        {
          "data": {"values": [{}]},
          "mark": {"type": "rule", "color": "black", "strokeWidth": 2},
          "encoding": {
            "x": {"datum": 249.2, "type": "quantitative", "scale": {"domain": [0, 249.2], "nice": false, "zero": false}, "axis": null},
            "y": {"datum": 808.8, "type": "quantitative", "scale": {"domain": [-698.5, 1397], "nice": false, "zero": false}},
            "y2": {"datum": -698.5}
          }
        },
        {
          "data": {"values": [{}]},
          "mark": {"type": "text", "align": "left", "baseline": "middle", "font": "DejaVu Sans", "fontSize": 12, "color": "#141452", "text": "MACDWX 12,26,9  28.5965"},
          "encoding": {
            "x": {"datum": 0.2, "type": "quantitative", "scale": {"domain": [0, 249.2], "nice": false, "zero": false}, "axis": null},
            "y": {"datum": 992.6, "type": "quantitative", "scale": {"domain": [-698.5, 1397], "nice": false, "zero": false}}
          }
        },
        {
          "data": {"values": [{}]},
          "mark": {"type": "text", "align": "left", "baseline": "middle", "font": "DejaVu Sans", "fontSize": 12, "color": "#17a08e", "text": "114.7633"},
          "encoding": {
            "x": {"datum": 51.9, "type": "quantitative", "scale": {"domain": [0, 249.2], "nice": false, "zero": false}, "axis": null},
            "y": {"datum": 992.6, "type": "quantitative", "scale": {"domain": [-698.5, 1397], "nice": false, "zero": false}}
          }
        },
        {
          "data": {"values": [{}]},
          "mark": {"type": "text", "align": "left", "baseline": "middle", "font": "DejaVu Sans", "fontSize": 12, "color": "#1a1a2e", "text": "86.1668"},
          "encoding": {
            "x": {"datum": 71.2, "type": "quantitative", "scale": {"domain": [0, 249.2], "nice": false, "zero": false}, "axis": null},
            "y": {"datum": 992.6, "type": "quantitative", "scale": {"domain": [-698.5, 1397], "nice": false, "zero": false}}
          }
        },
        {
          "data": {"values": [{}]},
          "mark": {"type": "rule", "color": "#b5b5b5", "strokeWidth": 3},
          "encoding": {
            "x": {"datum": -0.778, "type": "quantitative", "scale": {"domain": [0, 249.2], "nice": false, "zero": false}, "axis": null},
            "y": {"datum": 1397, "type": "quantitative", "scale": {"domain": [-698.5, 1397], "nice": false, "zero": false}},
            "y2": {"datum": -790}
          }
        },
        {
          "data": {"values": [{}]},
          "mark": {"type": "rule", "color": "#b5b5b5", "strokeWidth": 3},
          "encoding": {
            "x": {"datum": 262.1, "type": "quantitative", "scale": {"domain": [0, 249.2], "nice": false, "zero": false}, "axis": null},
            "y": {"datum": 1397, "type": "quantitative", "scale": {"domain": [-698.5, 1397], "nice": false, "zero": false}},
            "y2": {"datum": -790}
          }
        },
        {
          "data": {"values": [{}]},
          "mark": {"type": "rule", "color": "#b5b5b5", "strokeWidth": 3},
          "encoding": {
            "x": {"datum": -0.778, "type": "quantitative", "scale": {"domain": [0, 249.2], "nice": false, "zero": false}, "axis": null},
            "x2": {"datum": 262.1},
            "y": {"datum": -753.7, "type": "quantitative", "scale": {"domain": [-698.5, 1397], "nice": false, "zero": false}}
          }
        }
      ]
    }
  ]
}
